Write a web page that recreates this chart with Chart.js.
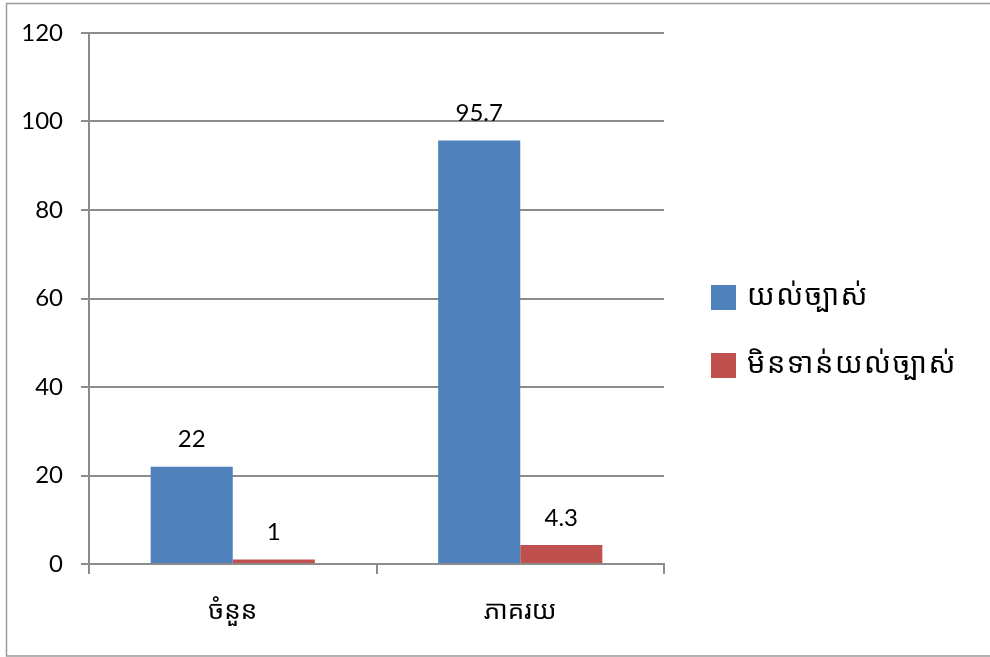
<!DOCTYPE html>
<html>
<head>
<meta charset="utf-8">
<script src="https://cdn.jsdelivr.net/npm/chart.js@4/dist/chart.umd.min.js"></script>
<style>
	html, body { margin: 0; padding: 0; background: #fff; }
	#wrap { width: 990px; height: 657px; }
</style>
</head>
<body>
<div id="wrap"><canvas id="myChart" width="990" height="657"></canvas></div>
<script>
/* values */
var categories = ["ចំនួន", "ភាគរយ"];
var seriesNames = ["យល់ច្បាស់", "មិនទាន់យល់ច្បាស់"];
var understood = [22, 95.7];
var notYet = [1, 4.3];
var yTicks = [0, 20, 40, 60, 80, 100, 120];

var FONT = "Lato, 'Open Sans', 'DejaVu Sans', sans-serif";
var KHMER = "'Noto Sans Khmer', 'Khmer OS', 'Noto Sans', 'DejaVu Sans', sans-serif";
var GRID = "#8c8c8c";

// frame round the whole picture
var framePlugin = {
	id: "frame",
	beforeDraw: function(chart) {
		var c = chart.ctx;
		c.save();
		c.fillStyle = "#fff";
		c.fillRect(0, 0, chart.width, chart.height);
		c.strokeStyle = "#9a9a9a";
		c.lineWidth = 1.5;
		c.strokeRect(6.5, 3.5, 1000, 652.5);
		c.restore();
	}
};

// numbers over the bars
var valuePlugin = {
	id: "values",
	afterDatasetsDraw: function(chart) {
		var c = chart.ctx;
		c.save();
		c.font = "24px " + FONT;
		c.fillStyle = "#000";
		c.textAlign = "center";
		c.textBaseline = "middle";
		chart.data.datasets.forEach(function(ds, i) {
			chart.getDatasetMeta(i).data.forEach(function(bar, j) {
				c.fillText(String(ds.data[j]), bar.x, bar.y - 27);
			});
		});
		c.restore();
	}
};

// legend on the right
var legendPlugin = {
	id: "sideLegend",
	afterDraw: function(chart) {
		var c = chart.ctx;
		var rows = [297, 365];
		c.save();
		c.font = "29px " + KHMER;
		c.letterSpacing = "1.5px";
		c.textBaseline = "middle";
		c.textAlign = "left";
		chart.data.datasets.forEach(function(ds, i) {
			c.fillStyle = ds.backgroundColor;
			c.fillRect(711, rows[i] - 12, 25, 25);
			c.fillStyle = "#000";
			c.fillText(ds.label, 747, rows[i]);
		});
		c.restore();
	}
};

new Chart(document.getElementById("myChart"), {
	type: "bar",
	data: {
		labels: categories,
		datasets: [{
			label: seriesNames[0],
			data: understood,
			backgroundColor: "#4F81BD"
		}, {
			label: seriesNames[1],
			data: notYet,
			backgroundColor: "#C0504D"
		}]
	},
	options: {
		responsive: false,
		animation: false,
		devicePixelRatio: 1,
		layout: { padding: { left: 0, top: 33, right: 326, bottom: 0 } },
		datasets: { bar: { categoryPercentage: 0.571, barPercentage: 1 } },
		plugins: {
			legend: { display: false },
			tooltip: { enabled: false }
		},
		scales: {
			x: {
				afterFit: function(s) { s.height = 93; },
				grid: { offset: true, drawOnChartArea: false, drawTicks: true, tickLength: 10, color: GRID, lineWidth: 2 },
				border: { display: true, color: GRID, width: 2 },
				ticks: { padding: 22, color: "#000", font: { size: 26, family: KHMER } }
			},
			y: {
				min: 0,
				max: 120,
				afterFit: function(s) { s.width = 89; },
				afterBuildTicks: function(s) {
					s.ticks = yTicks.map(function(v) { return { value: v }; });
				},
				grid: { color: GRID, lineWidth: 2, tickLength: 8 },
				border: { display: true, color: GRID, width: 2 },
				ticks: { padding: 18, color: "#000", font: { size: 24, family: FONT } }
			}
		}
	},
	plugins: [framePlugin, valuePlugin, legendPlugin]
});
</script>
</body>
</html>
